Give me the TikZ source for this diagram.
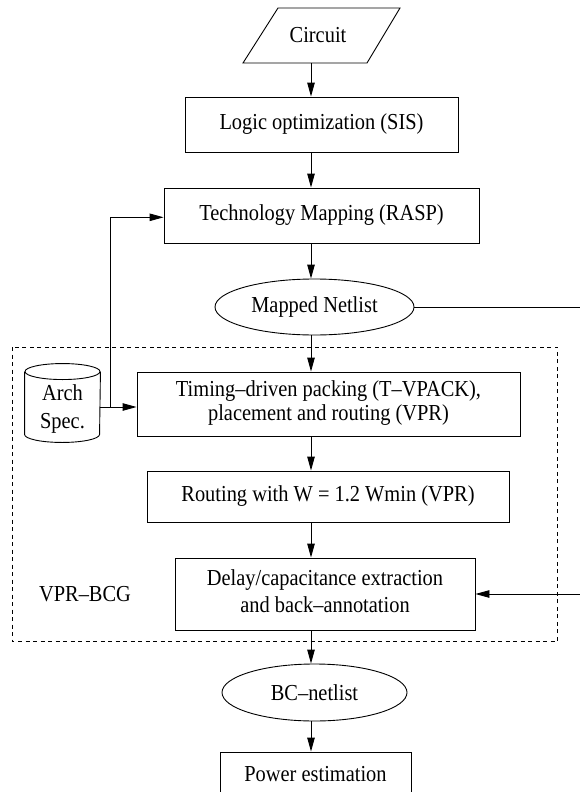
\documentclass[tikz,border=0pt]{standalone}
\usepackage{fontspec}
\usepackage{graphicx}
\setmainfont{Liberation Serif}
\usetikzlibrary{arrows.meta,shapes.geometric,calc}
\newcommand{\vsc}[1]{\scalebox{1}[1.12]{#1}}
\newcommand{\twoln}[3]{\vsc{\renewcommand{\arraystretch}{#1}\begin{tabular}{@{}c@{}}#2\\#3\end{tabular}}}
\begin{document}
\begin{tikzpicture}[x=1pt,y=-1pt,line width=0.9pt,
  txt/.style={font=\fontsize{20.4}{24}\selectfont, inner sep=0pt},
  box/.style={txt, draw, rectangle},
  oval/.style={txt, draw, ellipse},
  arr/.style={-{Triangle[length=14pt,width=7.5pt]}},
  dashbox/.style={dash pattern=on 4pt off 3.5pt, line width=0.8pt}]
\path[use as bounding box, clip] (0,0) rectangle (580,792);

\coordinate (col) at (311,0);

% Circuit
\node[txt, minimum height=55pt, minimum width=100pt] (circuit) at (318,35.5) {\vsc{Circuit}};
\draw (278,8) -- (400,8) -- (367,63) -- (243,63) -- cycle;

\node[box, minimum width=273pt, minimum height=55pt] (logic) at (321.5,124.5) {\vsc{Logic optimization (SIS)}\hspace{7pt}};
\node[box, minimum width=315pt, minimum height=55pt] (tech) at (321.5,215.5) {\vsc{Technology Mapping (RASP)}\hspace{25pt}};
\node[oval, minimum width=199pt, minimum height=56pt] (mapped) at (314.5,307) {\vsc{Mapped Netlist}\hspace{9.6pt}};

% dashed region
\draw[dashbox] (12,347) rectangle (557.5,641);
\node[txt] (vprbcg) at (85,594) {\vsc{VPR--BCG}};

\node[box, minimum width=383pt, minimum height=64pt] (timing) at (328.5,404)
  {\twoln{0.875}{Timing--driven packing (T--VPACK),}{placement and routing (VPR)}\hspace{15pt}};
\node[box, minimum width=362pt, minimum height=51pt] (routing) at (328,496.5) {\vsc{Routing with W = 1.2 Wmin (VPR)}\hspace{13pt}};
\node[box, minimum width=300pt, minimum height=72pt] (delay) at (325,594)
  {\twoln{1.0}{Delay/capacitance extraction}{and back--annotation}};
\node[oval, minimum width=185pt, minimum height=57pt] (bc) at (314.5,692.5) {\vsc{BC--netlist}};
\node[box, minimum width=191pt, minimum height=44pt] (power) at (315.5,774) {\vsc{Power estimation}\hspace{9pt}};

% Arch spec cylinder (node spans 376..442, cap centre at 372)
\node[txt, minimum width=75pt, minimum height=66pt] (arch) at (62.5,409) {\twoln{1.035}{Arch}{Spec.}};
\draw ([yshift=4pt]arch.north west) -- ([yshift=8pt]arch.south west)
  arc[start angle=180, end angle=360, x radius=37.5pt, y radius=8pt]
  -- ([yshift=4pt]arch.north east);
\draw ([yshift=4pt]arch.north) ellipse [x radius=37.5pt, y radius=8pt];

% main column arrows
\draw[arr] (circuit.south -| col) -- (logic.north -| col);
\draw[arr] (logic.south -| col) -- (tech.north -| col);
\draw[arr] (tech.south -| col) -- (mapped.north -| col);
\draw[arr] (mapped.south -| col) -- (timing.north -| col);
\draw[arr] (timing.south -| col) -- (routing.north -| col);
\draw[arr] (routing.south -| col) -- (delay.north -| col);
\draw[arr] (delay.south -| col) -- (bc.north -| col);
\draw[arr] (bc.south -| col) -- (power.north -| col);

% arch connections
\coordinate (j) at ([xshift=10pt,yshift=2pt]arch.east);
\draw[arr] ([yshift=2pt]arch.east) -- (j -| timing.west);
\draw[arr] (j) |- ([yshift=-1.8pt]tech.west);

% right side connections
\coordinate (mr) at (590,307);
\coordinate (dr) at (590,594);
\draw (mapped.east) -- (mr);
\draw[arr] (dr) -- (delay.east);
\end{tikzpicture}
\end{document}
